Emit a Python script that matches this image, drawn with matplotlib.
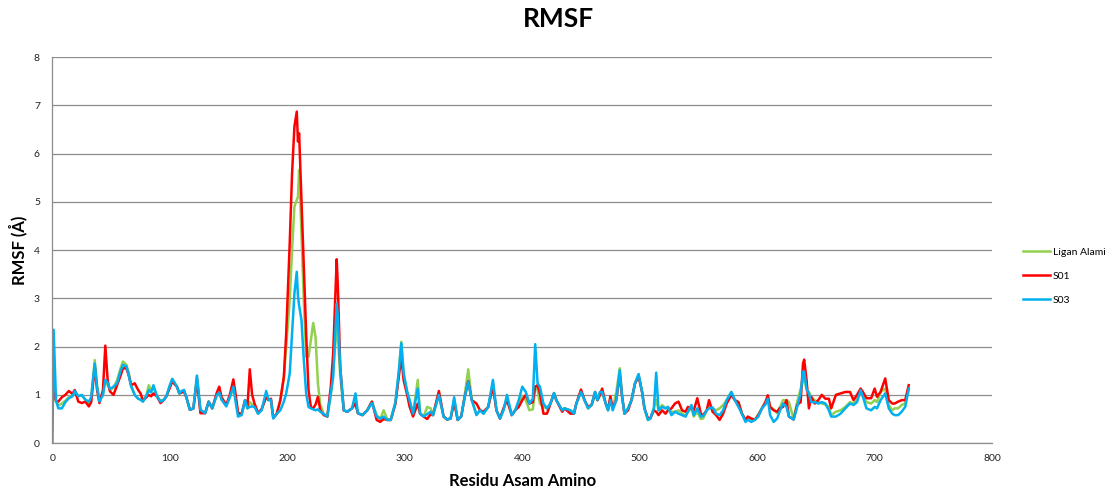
import matplotlib
matplotlib.use("Agg")
import matplotlib.pyplot as plt

# residue index and RMSF values (angstrom)
residue = [0, 1, 3, 5, 8, 11, 14, 17, 19, 22, 25, 28, 31, 33, 36, 38, 40, 43, 45, 47,
           49, 52, 55, 58, 60, 63, 65, 67, 70, 73, 75, 77, 80, 82, 84, 86, 89, 92, 95, 97,
           100, 102, 104, 106, 108, 110, 112, 114, 117, 120, 123, 126, 130, 133, 136, 140, 142, 144, 148, 151,
           154, 156, 158, 161, 164, 166, 168, 170, 172, 175, 178, 182, 184, 186, 188, 191, 194, 197, 199, 202,
           204, 206, 208, 209, 210, 212, 214, 216, 218, 220, 222, 224, 226, 228, 231, 234, 237, 239, 242, 243,
           245, 248, 251, 255, 258, 260, 264, 268, 272, 276, 279, 282, 285, 288, 292, 295, 297, 299, 302, 304,
           307, 311, 313, 316, 319, 322, 324, 329, 333, 336, 339, 342, 345, 348, 351, 354, 357, 361, 364, 367,
           371, 375, 378, 381, 384, 387, 391, 394, 397, 400, 403, 406, 409, 411, 413, 415, 418, 421, 424, 427,
           429, 434, 436, 441, 444, 446, 450, 453, 456, 459, 462, 464, 466, 468, 471, 473, 475, 477, 480, 483,
           485, 487, 490, 493, 496, 499, 502, 504, 507, 509, 512, 514, 516, 519, 522, 524, 527, 530, 533, 536,
           539, 541, 544, 546, 549, 552, 554, 557, 559, 562, 565, 568, 571, 574, 578, 581, 584, 587, 590, 592,
           595, 598, 601, 604, 607, 609, 611, 614, 617, 619, 622, 625, 627, 631, 634, 637, 639, 640, 642, 644,
           646, 649, 652, 655, 658, 661, 663, 667, 671, 675, 679, 682, 685, 688, 690, 693, 697, 700, 702, 705,
           709, 712, 715, 717, 720, 723, 726, 729]

ligan_alami = [1.25, 1.1, 0.85, 0.78, 0.82, 0.88, 0.95, 0.98, 1.08, 0.98, 0.98, 0.9, 0.82, 0.95, 1.72, 1.2, 0.88, 1.0, 1.3, 1.2,
               1.1, 1.15, 1.3, 1.55, 1.69, 1.62, 1.45, 1.2, 1.0, 0.92, 0.9, 0.86, 1.0, 1.2, 1.1, 1.15, 0.97, 0.88, 0.9, 0.97,
               1.2, 1.33, 1.25, 1.17, 1.03, 1.05, 1.1, 0.95, 0.69, 0.72, 1.38, 0.69, 0.62, 0.86, 0.72, 1.0, 1.05, 0.9, 0.79, 0.95,
               1.15, 0.9, 0.6, 0.6, 0.89, 0.72, 0.85, 0.8, 0.8, 0.61, 0.68, 0.96, 0.89, 0.9, 0.52, 0.61, 0.88, 1.35, 2.0, 2.96,
               4.0, 4.9, 5.04, 5.1, 5.66, 4.35, 2.96, 1.79, 1.79, 2.13, 2.49, 2.2, 1.24, 0.8, 0.6, 0.55, 1.0, 1.5, 2.41, 2.2,
               1.4, 0.68, 0.65, 0.72, 0.9, 0.62, 0.58, 0.68, 0.86, 0.58, 0.5, 0.68, 0.5, 0.48, 0.82, 1.51, 2.1, 1.44, 1.06, 0.89,
               0.6, 1.31, 0.61, 0.55, 0.75, 0.72, 0.58, 1.0, 0.55, 0.49, 0.51, 0.9, 0.48, 0.55, 1.0, 1.53, 0.89, 0.6, 0.68, 0.61,
               0.75, 1.24, 0.68, 0.51, 0.7, 0.95, 0.58, 0.68, 0.85, 0.96, 0.89, 0.68, 0.7, 1.17, 1.1, 0.82, 0.75, 0.72, 0.82, 1.03,
               0.89, 0.68, 0.72, 0.68, 0.61, 0.82, 1.06, 0.89, 0.72, 0.79, 1.0, 0.89, 1.0, 1.05, 0.82, 0.68, 0.9, 0.72, 1.06, 1.55,
               0.96, 0.61, 0.72, 0.89, 1.24, 1.43, 1.06, 0.72, 0.48, 0.51, 0.72, 0.9, 0.68, 0.79, 0.72, 0.75, 0.65, 0.65, 0.68, 0.62,
               0.56, 0.65, 0.72, 0.55, 0.65, 0.5, 0.51, 0.68, 0.75, 0.72, 0.68, 0.72, 0.79, 0.89, 1.06, 0.89, 0.85, 0.61, 0.48, 0.5,
               0.51, 0.48, 0.6, 0.72, 0.85, 0.96, 0.75, 0.7, 0.62, 0.72, 0.89, 0.89, 0.85, 0.5, 0.85, 1.13, 1.3, 1.35, 1.1, 1.06,
               0.95, 0.89, 0.85, 0.82, 0.8, 0.75, 0.58, 0.65, 0.68, 0.75, 0.85, 0.82, 0.9, 1.1, 0.96, 0.85, 0.82, 0.89, 0.85, 1.06,
               1.13, 0.79, 0.68, 0.72, 0.72, 0.79, 0.82, 1.1]

s01 = [1.2, 1.05, 0.88, 0.86, 0.95, 1.0, 1.08, 1.02, 1.1, 0.86, 0.83, 0.86, 0.76, 0.85, 1.58, 1.1, 0.83, 1.1, 2.02, 1.3,
       1.07, 1.0, 1.2, 1.4, 1.55, 1.55, 1.4, 1.2, 1.24, 1.1, 1.03, 0.88, 0.95, 1.0, 0.97, 1.03, 0.97, 0.83, 0.9, 0.97,
       1.15, 1.28, 1.22, 1.17, 1.03, 1.05, 1.07, 0.95, 0.69, 0.72, 1.31, 0.62, 0.62, 0.86, 0.72, 1.05, 1.17, 0.95, 0.79, 1.0,
       1.32, 1.0, 0.63, 0.6, 0.89, 0.75, 1.53, 1.0, 0.82, 0.63, 0.7, 0.96, 0.89, 0.92, 0.52, 0.61, 0.89, 1.37, 2.27, 4.14,
       5.59, 6.56, 6.87, 6.25, 6.42, 5.04, 3.65, 2.27, 1.1, 0.75, 0.72, 0.8, 0.96, 0.68, 0.58, 0.55, 1.17, 1.86, 3.81, 3.24,
       1.58, 0.68, 0.65, 0.72, 0.82, 0.62, 0.58, 0.68, 0.86, 0.48, 0.44, 0.5, 0.48, 0.48, 0.82, 1.4, 1.79, 1.3, 1.0, 0.76,
       0.55, 0.82, 0.61, 0.55, 0.5, 0.6, 0.58, 1.08, 0.55, 0.49, 0.51, 0.85, 0.48, 0.55, 0.96, 1.28, 0.89, 0.82, 0.68, 0.65,
       0.75, 1.17, 0.68, 0.51, 0.72, 0.89, 0.58, 0.68, 0.75, 0.89, 1.0, 0.82, 0.85, 1.17, 1.2, 1.03, 0.61, 0.61, 0.82, 1.03,
       0.89, 0.65, 0.72, 0.61, 0.61, 0.82, 1.11, 0.89, 0.75, 0.79, 1.06, 0.89, 0.99, 1.13, 0.82, 0.7, 0.97, 0.72, 0.89, 1.41,
       0.96, 0.61, 0.68, 0.89, 1.24, 1.38, 1.06, 0.72, 0.51, 0.51, 0.68, 0.65, 0.58, 0.68, 0.61, 0.68, 0.72, 0.82, 0.86, 0.68,
       0.65, 0.75, 0.72, 0.68, 0.93, 0.61, 0.58, 0.68, 0.89, 0.65, 0.58, 0.48, 0.61, 0.82, 1.0, 0.89, 0.85, 0.61, 0.48, 0.55,
       0.51, 0.48, 0.58, 0.72, 0.85, 0.99, 0.75, 0.68, 0.65, 0.72, 0.75, 0.89, 0.55, 0.49, 0.79, 0.85, 1.65, 1.73, 1.31, 0.72,
       0.96, 0.82, 0.89, 1.0, 0.92, 0.92, 0.72, 1.0, 1.03, 1.06, 1.06, 0.89, 1.0, 1.13, 1.06, 0.93, 0.93, 1.13, 0.96, 1.06,
       1.34, 0.89, 0.82, 0.82, 0.86, 0.89, 0.89, 1.2]

s03 = [0.0, 2.35, 0.9, 0.72, 0.72, 0.85, 0.93, 0.97, 1.08, 0.97, 1.0, 0.9, 0.86, 0.95, 1.65, 1.15, 0.86, 1.0, 1.31, 1.25,
       1.12, 1.17, 1.24, 1.5, 1.62, 1.59, 1.4, 1.17, 1.0, 0.92, 0.9, 0.86, 0.98, 1.1, 1.05, 1.2, 0.97, 0.86, 0.9, 0.97,
       1.2, 1.33, 1.25, 1.17, 1.03, 1.08, 1.1, 0.95, 0.69, 0.72, 1.4, 0.69, 0.62, 0.86, 0.72, 1.0, 1.05, 0.9, 0.76, 0.95,
       1.17, 0.85, 0.55, 0.58, 0.89, 0.72, 0.75, 0.76, 0.75, 0.61, 0.68, 1.08, 0.89, 0.9, 0.51, 0.61, 0.68, 0.86, 1.03, 1.44,
       2.27, 3.1, 3.55, 3.05, 2.85, 2.55, 1.72, 1.03, 0.75, 0.72, 0.7, 0.68, 0.7, 0.65, 0.6, 0.55, 1.03, 1.37, 2.89, 2.62,
       1.58, 0.68, 0.65, 0.72, 1.03, 0.62, 0.58, 0.68, 0.83, 0.55, 0.51, 0.55, 0.48, 0.48, 0.85, 1.51, 2.07, 1.44, 1.06, 0.89,
       0.61, 1.13, 0.61, 0.55, 0.6, 0.65, 0.58, 1.0, 0.55, 0.49, 0.51, 0.95, 0.48, 0.55, 0.96, 1.27, 0.89, 0.58, 0.68, 0.61,
       0.75, 1.31, 0.68, 0.51, 0.68, 1.0, 0.58, 0.68, 0.89, 1.17, 1.06, 0.82, 0.92, 2.05, 1.24, 1.17, 0.82, 0.72, 0.82, 1.04,
       0.89, 0.68, 0.72, 0.68, 0.61, 0.82, 1.06, 0.89, 0.72, 0.79, 1.06, 0.89, 1.06, 1.06, 0.82, 0.68, 0.89, 0.68, 0.89, 1.51,
       0.96, 0.61, 0.72, 0.89, 1.24, 1.43, 1.06, 0.72, 0.48, 0.51, 0.72, 1.46, 0.68, 0.75, 0.72, 0.75, 0.58, 0.65, 0.61, 0.58,
       0.55, 0.65, 0.79, 0.58, 0.72, 0.55, 0.56, 0.68, 0.72, 0.74, 0.61, 0.58, 0.68, 0.89, 1.06, 0.89, 0.75, 0.61, 0.44, 0.48,
       0.44, 0.48, 0.55, 0.72, 0.8, 0.92, 0.58, 0.44, 0.51, 0.65, 0.82, 0.75, 0.55, 0.49, 0.75, 1.03, 1.48, 1.48, 1.13, 1.03,
       0.85, 0.85, 0.82, 0.85, 0.82, 0.68, 0.55, 0.55, 0.61, 0.72, 0.82, 0.79, 0.85, 1.1, 0.96, 0.72, 0.68, 0.75, 0.72, 0.89,
       1.03, 0.72, 0.61, 0.58, 0.58, 0.65, 0.75, 1.13]

series_names = ["Ligan Alami", "S01", "S03"]
series_colors = ["#92D050", "#FF0000", "#00B0F0"]

plt.rcParams['font.family'] = ['Lato', 'DejaVu Sans']

fig = plt.figure(figsize=(11.16, 4.88), dpi=100)
ax = fig.add_axes([0.047, 0.092, 0.842, 0.791])

for vals, name, col in zip([ligan_alami, s01, s03], series_names, series_colors):
    ax.plot(residue, vals, color=col, linewidth=1.8, label=name, solid_joinstyle='round')

ax.set_xlim(0, 800)
ax.set_ylim(0, 8)
ax.set_xticks(range(0, 801, 100))
ax.set_yticks(range(0, 9))
ax.grid(axis='y', color='#8c8c8c', linewidth=0.9)
ax.set_axisbelow(True)
for side in ['top', 'right']:
    ax.spines[side].set_visible(False)
for side in ['left', 'bottom']:
    ax.spines[side].set_color('#8c8c8c')
    ax.spines[side].set_linewidth(0.9)
ax.tick_params(axis='both', length=0, labelsize=7.5, colors='#222222', pad=8)
ax.tick_params(axis='y', pad=9)

fig.suptitle('RMSF', fontsize=19, fontweight='bold', x=0.5, y=0.985)
ax.set_xlabel('Residu Asam Amino', fontsize=12, fontweight='bold', labelpad=7)
ax.set_ylabel('RMSF (Å)', fontsize=12, fontweight='bold', labelpad=5)

fig.legend(loc='center left', bbox_to_anchor=(0.908, 0.434), frameon=False,
           fontsize=7.5, handlelength=2.6, labelspacing=1.4, handletextpad=0.3)

fig.savefig('out.png', dpi=100)
